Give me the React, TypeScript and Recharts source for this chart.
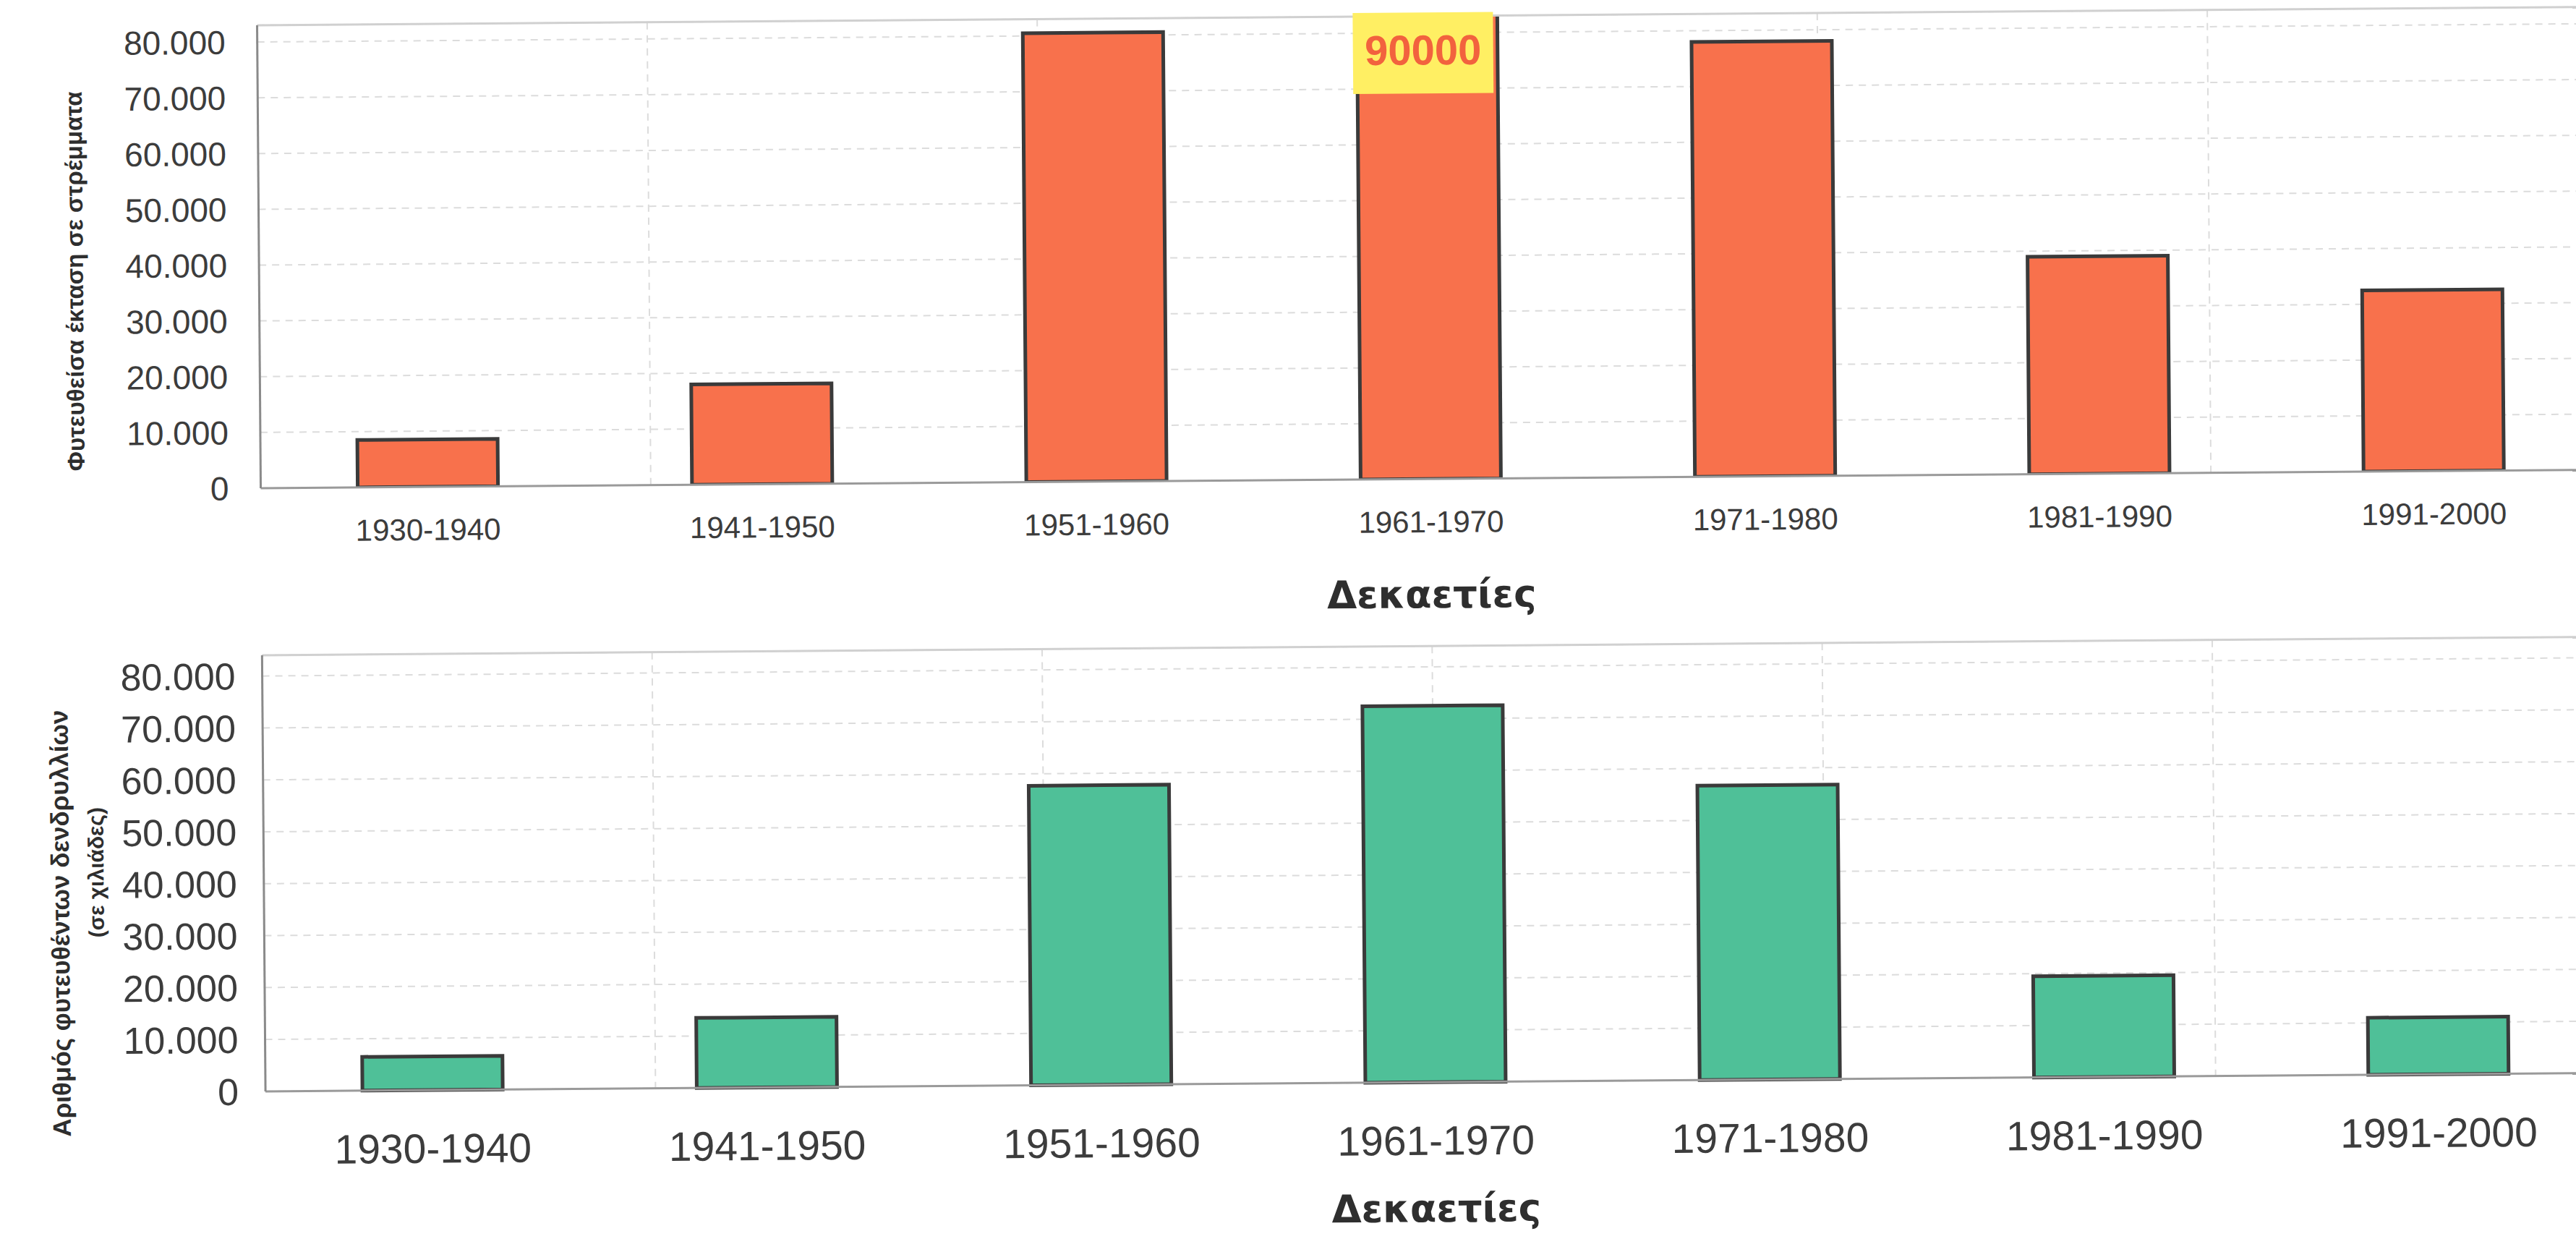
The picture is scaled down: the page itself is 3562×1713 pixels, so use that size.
import React from 'react';
import { BarChart, Bar, XAxis, YAxis, CartesianGrid, LabelList, ReferenceLine } from 'recharts';

// ---------- data ----------
const decades = ['1930-1940', '1941-1950', '1951-1960', '1961-1970', '1971-1980', '1981-1990', '1991-2000'];
const plantedArea = [8500, 18000, 80500, 90000, 78000, 39000, 32500];
const seedlings = [6500, 13500, 57700, 72500, 56700, 19500, 11000];
const valueTicks = [0, 10000, 20000, 30000, 40000, 50000, 60000, 70000, 80000];
const boundaryTicks = [0, 1, 2, 3, 4, 5, 6, 7];
const areaAxisMax = 83000;
const seedlingAxisMax = 84000;
const xTitle = 'Δεκαετίες';
const areaTitle = ['Φυτευθείσα έκταση σε στρέμματα'];
const seedlingTitle = ['Αριθμός φυτευθέντων δενδρυλλίων', '(σε χιλιάδες)'];

const areaData = decades.map((d, i) => ({ decade: d, value: plantedArea[i] }));
const seedlingData = decades.map((d, i) => ({ decade: d, value: seedlings[i] }));

const FONT = '"Liberation Sans", Arial, sans-serif';
const TITLE_FONT = '"DejaVu Sans", Verdana, sans-serif';

const fmt = (v: number) => String(v).replace(/\B(?=(\d{3})+(?!\d))/g, '.');

const YTitle = (props: any) => {
  const { viewBox, lines, xs, dys, sizes } = props;
  const cy = viewBox.y + viewBox.height / 2;
  return (
    <g>
      {lines.map((t: string, i: number) => (
        <text
          key={i}
          x={viewBox.x + xs[i]}
          y={cy + dys[i]}
          transform={`rotate(-90 ${viewBox.x + xs[i]} ${cy + dys[i]})`}
          textAnchor="middle"
          dominantBaseline="central"
          fontFamily={FONT}
          fontWeight="bold"
          fontSize={sizes[i]}
          fill="#2e2e2e"
        >
          {t}
        </text>
      ))}
    </g>
  );
};

const OverflowTag = (props: any) => {
  const vb = props.viewBox ?? props;
  const x = vb.x ?? props.x;
  const width = vb.width ?? props.width;
  const value = props.value;
  if (value == null || value <= areaAxisMax) return null;
  const cx = x + width / 2 - 6;
  return (
    <g>
      <rect x={cx - 97} y={29} width={194} height={112} fill="#FFEF63" />
      <text x={cx} y={101} textAnchor="middle" fontFamily={FONT} fontWeight="bold" fontSize={58} fill="#F2623E">
        {value}
      </text>
    </g>
  );
};

const PLOT_LEFT = 362;
const CHART_W = 3598;

const gridStroke = '#dcdcdc';

export default function App() {
  return (
    <div style={{ position: 'absolute', left: 0, top: 0, width: 3562, height: 1713, overflow: 'hidden', background: '#fff' }}>
      <div
        style={{
          position: 'absolute',
          left: 0,
          top: 0,
          width: CHART_W,
          height: 1713,
          transform: 'rotate(-0.45deg)',
          transformOrigin: '480px 860px',
        }}
      >
        {/* top chart */}
        <div style={{ position: 'absolute', left: 0, top: 0 }}>
          <BarChart
            width={CHART_W}
            height={870}
            data={areaData}
            margin={{ top: 34, right: 0, bottom: 0, left: 0 }}
            barCategoryGap="29%"
          >
            <XAxis xAxisId="b" type="number" domain={[0, 7]} ticks={boundaryTicks} hide />
            <CartesianGrid xAxisId="b" stroke={gridStroke} strokeDasharray="10 8" strokeWidth={2} />
            <ReferenceLine y={areaAxisMax} stroke="#d0d0d0" strokeWidth={3} />
            <XAxis
              dataKey="decade"
              height={196}
              tickLine={false}
              tickSize={0}
              tickMargin={44}
              axisLine={{ stroke: '#9a9a9a', strokeWidth: 3 }}
              tick={{ fontSize: 42, fill: '#3c3c3c', fontFamily: FONT }}
              interval={0}
              label={{
                value: xTitle,
                position: 'insideBottom',
                offset: 18,
                fontSize: 53,
                fontWeight: 'bold',
                fill: '#2e2e2e',
                fontFamily: TITLE_FONT,
              }}
            />
            <YAxis
              width={PLOT_LEFT}
              domain={[0, areaAxisMax]}
              ticks={valueTicks}
              allowDataOverflow
              tickFormatter={fmt}
              tickLine={false}
              tickSize={0}
              tickMargin={44}
              axisLine={{ stroke: '#8a8a8a', strokeWidth: 3 }}
              tick={{ fontSize: 46, fill: '#3c3c3c', fontFamily: FONT }}
              label={{
                content: (p: any) => <YTitle {...p} lines={areaTitle} xs={[107]} dys={[32]} sizes={[33]} />,
              }}
            />
            <Bar dataKey="value" fill="#F8714C" stroke="#3a3a3a" strokeWidth={5} isAnimationActive={false}>
              <LabelList dataKey="value" content={OverflowTag} />
            </Bar>
          </BarChart>
        </div>

        {/* bottom chart */}
        <div style={{ position: 'absolute', left: 0, top: 870 }}>
          <BarChart
            width={CHART_W}
            height={843}
            data={seedlingData}
            margin={{ top: 35, right: 0, bottom: 0, left: 0 }}
            barCategoryGap="29%"
          >
            <XAxis xAxisId="b" type="number" domain={[0, 7]} ticks={boundaryTicks} hide />
            <CartesianGrid xAxisId="b" stroke={gridStroke} strokeDasharray="10 8" strokeWidth={2} />
            <ReferenceLine y={seedlingAxisMax} stroke="#d0d0d0" strokeWidth={3} />
            <XAxis
              dataKey="decade"
              height={205}
              tickLine={false}
              tickSize={0}
              tickMargin={60}
              axisLine={{ stroke: '#9a9a9a', strokeWidth: 3 }}
              tick={{ fontSize: 57, fill: '#3c3c3c', fontFamily: FONT }}
              interval={0}
              label={{
                value: xTitle,
                position: 'insideBottom',
                offset: 12,
                fontSize: 53,
                fontWeight: 'bold',
                fill: '#2e2e2e',
                fontFamily: TITLE_FONT,
              }}
            />
            <YAxis
              width={PLOT_LEFT}
              domain={[0, seedlingAxisMax]}
              ticks={valueTicks}
              tickFormatter={fmt}
              tickLine={false}
              tickSize={0}
              tickMargin={37}
              axisLine={{ stroke: '#8a8a8a', strokeWidth: 3 }}
              tick={{ fontSize: 52, fill: '#3c3c3c', fontFamily: FONT }}
              label={{
                content: (p: any) => (
                  <YTitle {...p} lines={seedlingTitle} xs={[80, 130]} dys={[67, -3]} sizes={[35, 30]} />
                ),
              }}
            />
            <Bar dataKey="value" fill="#4FC098" stroke="#3a3a3a" strokeWidth={5} isAnimationActive={false} />
          </BarChart>
        </div>
      </div>
    </div>
  );
}
